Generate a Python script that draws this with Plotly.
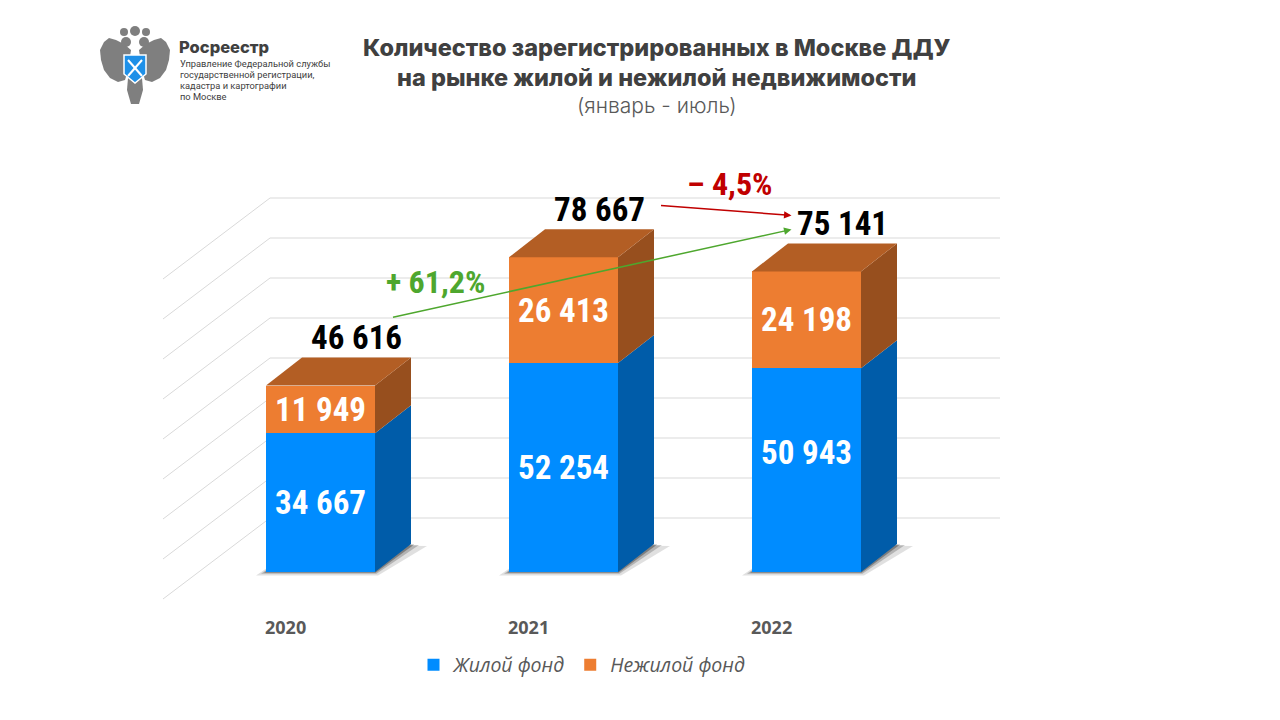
import plotly.graph_objects as go

# data
years = ["2020", "2021", "2022"]
zhiloy = [34667, 52254, 50943]
nezhiloy = [11949, 26413, 24198]
series_names = ["Жилой фонд", "Нежилой фонд"]
grid_values = [0, 10000, 20000, 30000, 40000, 50000, 60000, 70000, 80000]

# geometry: page pixel <-> data mapping (axis fills the whole figure,
# the page body adds an 8px margin around the figure)
PAGE_W, PAGE_H = 1280, 720
BODY = 8
W, H = PAGE_W - 2 * BODY, PAGE_H - 2 * BODY
CAT0_PX = 320.5
CAT_PX = 243.0
ZERO_PX = 572.0
PX_PER_UNIT = 40 / 10000


def px_x(p):
    return (p - CAT0_PX) / CAT_PX


def px_y(p):
    return (ZERO_PX - p) / PX_PER_UNIT


def paper_x(p):
    return (p - BODY) / W


def paper_y(p):
    return 1 - (p - BODY) / H


def dx(p):
    return p / CAT_PX


def dy(p):
    return p / PX_PER_UNIT


BAR_W = 109 / CAT_PX
HW = BAR_W / 2
DEPTH_X, DEPTH_Y = dx(36), dy(28)
WALL_Y = dy(54)
FRONT_Y = dy(-27)

NUM_FONT = "Roboto Condensed, DejaVu Sans Condensed, Roboto"
TITLE_FONT = "Inter, Roboto, Noto Sans"
BLUE, BLUE_SIDE = "#008CFF", "#005CA9"
ORANGE, ORANGE_TOP, ORANGE_SIDE = "#ED7D31", "#B35E24", "#974F1E"
GREEN, RED = "#4EA72E", "#C00000"


def fmt(v):
    return f"{v:,}".replace(",", " ")


def pct(a, b):
    p = (b / a - 1) * 100
    sign = "+ " if p > 0 else "– "
    return sign + f"{abs(p):.1f}".replace(".", ",") + "%"


fig = go.Figure()
shapes = []

# back wall + left wall gridlines
for v in grid_values:
    shapes.append(dict(type="line", xref="x", yref="y", layer="below",
                       x0=px_x(270), x1=px_x(1000), y0=v + WALL_Y, y1=v + WALL_Y,
                       line=dict(color="#D9D9D9", width=1)))
    shapes.append(dict(type="line", xref="x", yref="y", layer="below",
                       x0=px_x(270), x1=px_x(163), y0=v + WALL_Y, y1=v + FRONT_Y,
                       line=dict(color="#D9D9D9", width=1)))

# soft shadows under bars
x_pos = list(range(len(years)))
for i in x_pos:
    for grow, alpha in [(10, 0.12), (5, 0.2), (2, 0.3)]:
        pts = [(i - HW - dx(grow), -dy(grow * 0.35)),
               (i + HW + dx(grow * 0.3), -dy(grow * 0.35)),
               (i + HW + DEPTH_X + dx(grow * 1.6), DEPTH_Y - dy(grow * 0.2)),
               (i - HW + DEPTH_X, DEPTH_Y)]
        path = "M " + " L ".join(f"{a},{b}" for a, b in pts) + " Z"
        shapes.append(dict(type="path", xref="x", yref="y", layer="below", path=path,
                           fillcolor=f"rgba(0,0,0,{alpha})", line=dict(width=0)))


def face(xs, ys, color):
    fig.add_trace(go.Scatter(x=xs + [xs[0]], y=ys + [ys[0]], mode="lines", fill="toself",
                             fillcolor=color, line=dict(width=0, color=color),
                             hoverinfo="skip", showlegend=False))


# side and top faces of the 3D bars
for i in x_pos:
    b0, b1 = 0, zhiloy[i]
    t = zhiloy[i] + nezhiloy[i]
    xr = i + HW
    face([xr, xr + DEPTH_X, xr + DEPTH_X, xr], [b0, b0 + DEPTH_Y, b1 + DEPTH_Y, b1], BLUE_SIDE)
    face([xr, xr + DEPTH_X, xr + DEPTH_X, xr], [b1, b1 + DEPTH_Y, t + DEPTH_Y, t], ORANGE_SIDE)
    face([i - HW, xr, xr + DEPTH_X, i - HW + DEPTH_X], [t, t, t + DEPTH_Y, t + DEPTH_Y], ORANGE_TOP)

# front faces
fig.add_trace(go.Bar(x=x_pos, y=zhiloy, width=BAR_W, name=series_names[0],
                     marker=dict(color=BLUE, line=dict(width=0)), hoverinfo="y"))
fig.add_trace(go.Bar(x=x_pos, y=nezhiloy, width=BAR_W, name=series_names[1],
                     marker=dict(color=ORANGE, line=dict(width=0)), hoverinfo="y"))

ann = []
label_nudge = {(0, 2): 18}  # (series, bar) -> px up
for i in x_pos:
    segs = [(0, zhiloy[i]), (zhiloy[i], zhiloy[i] + nezhiloy[i])]
    for s, (a, b) in enumerate(segs):
        ann.append(dict(x=i, y=(a + b) / 2, xref="x", yref="y", showarrow=False,
                        text=f"<b>{fmt(b - a)}</b>", yshift=label_nudge.get((s, i), 0),
                        font=dict(family=NUM_FONT, size=33, color="white")))
    tot = zhiloy[i] + nezhiloy[i]
    ann.append(dict(x=i + DEPTH_X, y=tot + DEPTH_Y, xref="x", yref="y", showarrow=False,
                    text=f"<b>{fmt(tot)}</b>", yshift=20,
                    font=dict(family=NUM_FONT, size=33, color="black")))
    ann.append(dict(x=i + dx(-35), y=px_y(627), xref="x", yref="y", showarrow=False,
                    text=f"<b>{years[i]}</b>",
                    font=dict(family="Open Sans, Noto Sans", size=18, color="#595959")))

# change arrows
totals = [a + b for a, b in zip(zhiloy, nezhiloy)]
end_x, end_y = 2 + DEPTH_X, totals[2] + DEPTH_Y
ann.append(dict(x=end_x + dx(-51), y=end_y + dy(20) + dy(-6), xref="x", yref="y",
                ax=(0 + DEPTH_X + dx(35) - (end_x + dx(-51))) * CAT_PX,
                ay=-((totals[0] + DEPTH_Y + dy(40)) - (end_y + dy(14))) * PX_PER_UNIT,
                showarrow=True, arrowhead=2, arrowsize=1, arrowwidth=1.5, arrowcolor=GREEN,
                text=""))
ann.append(dict(x=end_x + dx(-51), y=end_y + dy(28), xref="x", yref="y",
                ax=(1 + DEPTH_X + dx(60) - (end_x + dx(-51))) * CAT_PX,
                ay=-((totals[1] + DEPTH_Y + dy(24)) - (end_y + dy(28))) * PX_PER_UNIT,
                showarrow=True, arrowhead=2, arrowsize=1, arrowwidth=1.5, arrowcolor=RED,
                text=""))
ann.append(dict(x=px_x(435), y=px_y(282), xref="x", yref="y", showarrow=False,
                text=f"<b>{pct(totals[0], totals[2])}</b>",
                font=dict(family=NUM_FONT, size=32, color=GREEN)))
ann.append(dict(x=px_x(730), y=px_y(184), xref="x", yref="y", showarrow=False,
                text=f"<b>{pct(totals[1], totals[2])}</b>",
                font=dict(family=NUM_FONT, size=32, color=RED)))

# titles
for text, py, size, weight, color in [
        ("Количество зарегистрированных в Москве ДДУ", 48, 23.5, 800, "#404040"),
        ("на рынке жилой и нежилой недвижимости", 77, 23.5, 800, "#404040"),
        ("(январь - июль)", 105, 21, 300, "#595959")]:
    ann.append(dict(x=paper_x(657), y=paper_y(py), xref="paper", yref="paper",
                    showarrow=False, xanchor="center", yanchor="middle", text=text,
                    font=dict(family=TITLE_FONT, size=size, weight=weight, color=color)))

# logo text
ann.append(dict(x=paper_x(177), y=paper_y(47), xref="paper", yref="paper", showarrow=False,
                xanchor="left", yanchor="middle", text="Росреестр",
                font=dict(family="Inter, Roboto", size=16.5, weight=800, color="#404040")))
for k, line in enumerate(["Управление Федеральной службы", "государственной регистрации,",
                          "кадастра и картографии", "по Москве"]):
    ann.append(dict(x=paper_x(178), y=paper_y(63 + 11 * k), xref="paper", yref="paper",
                    showarrow=False, xanchor="left", yanchor="middle", text=line,
                    font=dict(family="Roboto", size=9.3, color="#404040")))


# logo emblem (simplified eagle + shield)
def px_path(points, close=True):
    s = "M " + " L ".join(f"{px_x(a)},{px_y(b)}" for a, b in points)
    return s + (" Z" if close else "")


left_wing = [(131, 50), (124, 44), (116, 40), (109, 38), (104, 42), (100, 50), (101, 60),
             (104, 70), (110, 78), (118, 82), (125, 80), (128, 70)]
right_wing = [(270 - a, b) for a, b in left_wing]
body = [(128, 78), (142, 78), (143, 90), (139, 104), (131, 104), (127, 90)]
for pts in (left_wing, right_wing, body):
    shapes.append(dict(type="path", xref="x", yref="y", path=px_path(pts),
                       fillcolor="#7F7F7F", line=dict(width=0)))
for cx, cy, r in [(126, 42, 5), (144, 42, 5), (135, 31, 5), (124, 32, 4), (146, 32, 4)]:
    shapes.append(dict(type="circle", xref="x", yref="y", x0=px_x(cx - r), x1=px_x(cx + r),
                       y0=px_y(cy + r), y1=px_y(cy - r), fillcolor="#7F7F7F",
                       line=dict(width=0)))
shield = [(124, 55), (146, 55), (146, 74), (135, 83), (124, 74)]
shapes.append(dict(type="path", xref="x", yref="y", path=px_path(shield),
                   fillcolor="#1E90E8", line=dict(color="white", width=1.5)))
for p in ([(128, 60), (142, 76)], [(142, 60), (128, 76)]):
    shapes.append(dict(type="path", xref="x", yref="y", path=px_path(p, close=False),
                       line=dict(color="white", width=2)))

fig.update_layout(
    width=W, height=H,
    margin=dict(l=0, r=0, t=0, b=0),
    paper_bgcolor="white", plot_bgcolor="white",
    barmode="stack",
    xaxis=dict(range=[px_x(BODY), px_x(PAGE_W - BODY)], visible=False, fixedrange=True),
    yaxis=dict(range=[px_y(PAGE_H - BODY), px_y(BODY)], visible=False, fixedrange=True),
    shapes=shapes,
    annotations=ann,
    showlegend=True,
    legend=dict(orientation="h", x=paper_x(582), y=paper_y(665), xanchor="center",
                yanchor="middle", traceorder="normal", itemwidth=30,
                font=dict(family="Open Sans, Noto Sans", size=19.5, color="#595959", style="italic"),
                bgcolor="rgba(0,0,0,0)", itemclick=False, itemdoubleclick=False),
)

fig.write_html("out.html")
